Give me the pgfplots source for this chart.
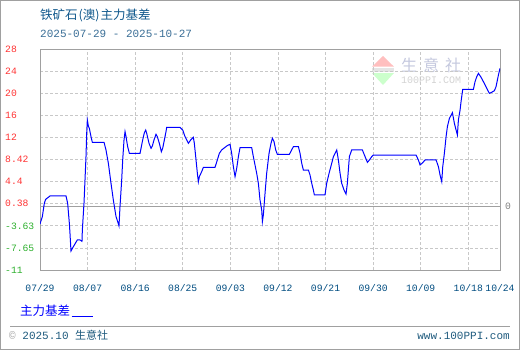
\documentclass[border=0pt]{standalone}
\usepackage{pgfplots}
\pgfplotsset{compat=1.18}
\usepackage{pgfplotstable}
\usepackage{fontspec}
\setmainfont{Liberation Mono}
\newfontfamily\cjk{Noto Sans CJK SC}
\newfontfamily\mono{Liberation Mono}
\definecolor{titleblue}{RGB}{16,88,140}
\definecolor{subblue}{RGB}{58,110,150}
\definecolor{tickblue}{RGB}{0,76,128}
\definecolor{posred}{RGB}{255,51,51}
\definecolor{neggreen}{RGB}{46,176,46}
\definecolor{framegray}{RGB}{160,160,160}
\definecolor{gridgray}{RGB}{200,200,200}
\definecolor{footblue}{RGB}{30,90,125}
\definecolor{wmtext}{RGB}{196,200,222}

\pgfplotstableread{
day val
0 -2.87
0.44 -1.57
0.82 0.79
1.07 1.49
1.58 1.85
1.89 2.08
4.92 2.08
5.23 0.79
5.55 -2.75
5.67 -4.51
5.86 -7.64
6.31 -6.87
7.06 -5.69
7.57 -5.69
7.94 -5.93
8.01 -3.93
8.32 0.79
8.51 4.91
8.70 9.03
8.83 13.15
8.95 15.51
9.14 14.45
9.33 14.04
9.65 12.56
9.90 11.56
12.11 11.56
12.48 10.21
12.93 7.85
13.43 4.32
13.87 1.37
14.38 -1.57
14.69 -2.45
14.94 -3.22
15.13 0.20
15.45 4.91
15.64 8.44
15.89 11.98
16.08 13.45
16.27 12.56
16.58 10.80
16.90 9.62
18.92 9.62
19.42 11.98
19.74 13.27
19.99 13.74
20.18 13.15
20.62 11.39
21.00 10.50
21.25 10.92
21.56 11.98
21.94 12.98
22.19 12.56
22.57 11.39
22.95 9.91
23.20 10.50
23.52 11.98
23.83 13.45
23.96 14.21
26.48 14.21
26.99 13.74
27.43 12.56
28.06 11.39
28.50 11.98
29.00 12.45
29.19 11.39
29.51 8.44
29.76 6.09
29.95 4.61
30.14 5.50
30.58 6.38
30.90 7.15
33.10 7.15
33.54 8.44
33.92 9.62
34.36 10.21
34.99 10.68
35.50 11.03
35.94 11.21
36.25 9.62
36.57 7.26
36.89 5.50
37.20 6.97
37.52 9.03
37.83 10.62
40.04 10.62
40.35 9.03
40.98 6.09
41.30 4.32
41.61 1.37
41.93 -0.39
42.06 -2.45
42.24 -1.28
42.56 2.55
42.87 6.09
43.32 9.62
43.69 11.39
43.95 12.27
44.26 11.68
44.58 10.21
44.89 9.44
47.16 9.44
47.60 10.21
47.92 10.80
48.87 10.80
49.18 9.62
49.50 7.85
49.81 6.67
50.76 6.67
51.07 5.79
51.39 4.32
51.70 3.14
51.89 2.26
53.90 2.26
54.22 4.32
54.67 6.09
55.17 7.85
55.49 9.03
56.12 10.21
56.43 8.44
56.75 6.09
57.06 4.32
57.50 3.14
57.88 2.43
58.13 4.32
58.32 6.67
58.51 9.03
58.95 10.21
60.97 10.21
61.48 9.03
61.92 8.03
62.30 8.44
62.74 9.03
63.05 9.32
71.12 9.32
71.56 8.44
71.88 7.56
72.38 7.97
72.82 8.44
74.91 8.44
75.35 7.26
75.66 5.79
75.98 4.61
76.17 7.26
76.48 9.62
76.80 12.56
77.05 14.33
77.43 15.80
77.68 16.22
78.00 16.80
78.37 14.92
78.69 13.74
78.94 12.86
79.13 15.51
79.45 17.28
79.63 18.75
79.95 20.93
81.97 20.93
82.28 22.28
82.60 23.16
82.91 23.75
83.35 23.16
83.86 22.28
84.49 21.10
84.99 20.22
85.43 20.40
85.94 20.69
86.25 21.40
86.70 23.46
87 24.64
}\basis

\begin{document}
\begin{tikzpicture}[x=1bp,y=1bp]
\useasboundingbox (0,0) rectangle (520,350);
\draw[framegray, line width=1bp] (0.5,0.5) rectangle (519.5,349.5);
% title
\node[anchor=west, inner sep=0pt, text=titleblue] at (40,335) {\cjk\fontsize{12.5bp}{14bp}\selectfont 铁矿石\hspace{1bp}(澳)\hspace{1bp}主力基差};
\node[anchor=west, inner sep=0pt, text=subblue] at (40,315.7) {\mono\fontsize{11bp}{13bp}\selectfont 2025-07-29 - 2025-10-27};
% watermark
\fill[red!25] (372,283.3) -- (394,283.3) -- (383,294) -- cycle;
\fill[green!20] (372,277) -- (394,277) -- (383,265) -- cycle;
\fill[gray!20] (372,278) rectangle (394,282.5);
\node[anchor=west, inner sep=0pt, text=wmtext] at (401,284.5) {\cjk\fontsize{16bp}{18bp}\selectfont 生\hspace{6bp}意\hspace{6bp}社};
\node[anchor=west, inner sep=0pt, text=gray!35] at (401,269.5) {\mono\fontsize{10bp}{12bp}\selectfont 100PPI.COM};
\begin{axis}[
  at={(40bp,80bp)}, anchor=south west,
  width=460bp, height=220.7bp, scale only axis,
  xmin=0, xmax=87, ymin=-11, ymax=28,
  xtick={0,9,18,27,36,45,54,63,72,81,87},
  xticklabels={07/29,08/07,08/16,08/25,09/03,09/12,09/21,09/30,10/09,10/18,10/24},
  ytick={-11,-7.1,-3.2,0.7,4.6,8.5,12.4,16.3,20.2,24.1,28},
  yticklabels={\textcolor{neggreen}{-11},\textcolor{neggreen}{-7.65},\textcolor{neggreen}{-3.63},\textcolor{posred}{0.38},\textcolor{posred}{4.4},\textcolor{posred}{8.42},\textcolor{posred}{12},\textcolor{posred}{16},\textcolor{posred}{20},\textcolor{posred}{24},\textcolor{posred}{28}},
  major tick length=0pt,
  grid=major,
  major grid style={gridgray, dash pattern=on 3bp off 2bp, line width=0.8bp},
  axis line style={framegray, line width=1bp},
  tick label style={font=\mono\fontsize{9.7bp}{11bp}\selectfont},
  xticklabel style={text=tickblue, anchor=base, inner sep=0pt, yshift=-21bp},
  yticklabel style={anchor=west, inner sep=0pt, xshift=-35bp},
]
\draw[framegray, line width=1bp] (axis cs:0,0.19) -- (axis cs:87,0.19);
\coordinate (zr) at (axis cs:87,0.19);
\addplot[blue, line width=1bp] table[x=day, y=val] {\basis};
\end{axis}
\node[anchor=west, inner sep=0pt, text=gray] at ([xshift=5bp]zr) {\mono\fontsize{9.7bp}{11bp}\selectfont 0};
% legend
\node[anchor=west, inner sep=0pt, text=blue] at (20,39.5) {\cjk\fontsize{12.5bp}{14bp}\selectfont 主力基差};
\draw[blue, line width=1bp] (71.5,34) -- (93,34);
% footer
\draw[framegray, line width=1bp] (10,24) -- (510,24);
\node[anchor=west, inner sep=0pt] at (9,14.3) {\mono\fontsize{11bp}{13bp}\selectfont\textcolor{gray!70}{©} \textcolor{footblue}{2025.10 {\cjk 生意社}}};
\node[anchor=east, inner sep=0pt, text=footblue] at (510,14.3) {\mono\fontsize{11bp}{13bp}\selectfont www.100PPI.com};
\end{tikzpicture}
\end{document}
